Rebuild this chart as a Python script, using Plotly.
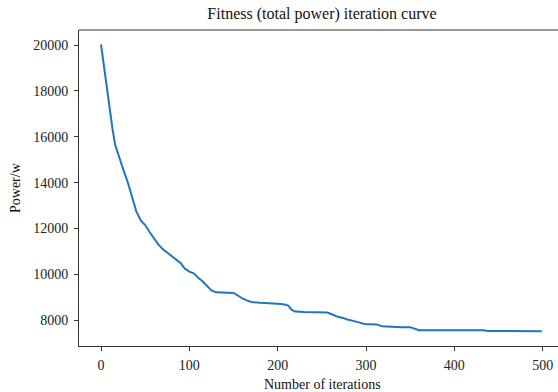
import plotly.graph_objects as go

# Data (iteration, best total power)
iterations = [0, 3, 6, 10, 13, 16, 20, 25, 30, 35, 40, 45, 50, 55, 60, 65, 70, 75, 80,
              85, 90, 95, 100, 105, 110, 115, 120, 125, 130, 140, 150, 155, 160,
              165, 170, 180, 190, 200, 208, 212, 216, 220, 230, 240, 250, 256,
              262, 268, 275, 280, 290, 298, 305, 312, 318, 330, 340, 350, 356,
              360, 380, 400, 420, 433, 438, 460, 480, 499]
power = [20030, 19150, 18300, 17250, 16350, 15650, 15150, 14600, 14050, 13450, 12750,
         12350, 12150, 11850, 11550, 11300, 11100, 10950, 10800, 10650, 10500,
         10250, 10120, 10050, 9850, 9700, 9500, 9300, 9220, 9210, 9190, 9080,
         8950, 8870, 8800, 8760, 8750, 8720, 8690, 8640, 8450, 8380, 8360, 8360,
         8360, 8340, 8250, 8150, 8090, 8020, 7930, 7840, 7830, 7820, 7740, 7710,
         7700, 7700, 7620, 7570, 7570, 7570, 7565, 7565, 7530, 7530, 7525, 7525]

x_ticks = [0, 100, 200, 300, 400, 500]
y_ticks = [8000, 10000, 12000, 14000, 16000, 18000, 20000]
y_tick_labels = ["8000", "10000", "12000", "14000", "16000", "18000", "20000"]

FONT = "Liberation Serif, Times New Roman, serif"
W, H = 558, 392
ML, MT, MB = 79, 30, 46

fig = go.Figure()
fig.add_trace(go.Scatter(x=iterations, y=power, mode="lines",
                         line=dict(color="#1f77b4", width=2), showlegend=False))

axis_common = dict(showgrid=False, zeroline=False, showline=True, linecolor="#333",
                   linewidth=1, ticks="outside", ticklen=4, tickwidth=1, tickcolor="#333",
                   tickfont=dict(family=FONT, size=14, color="#222"))

fig.update_layout(
    width=W, height=H,
    margin=dict(l=ML, r=0, t=MT, b=MB, pad=0),
    plot_bgcolor="white", paper_bgcolor="white",
    xaxis=dict(range=[-24.9, 517.3], tickvals=x_ticks,
               ticktext=[str(v) for v in x_ticks], mirror=False,
               ticklabelstandoff=2, **axis_common),
    yaxis=dict(range=[6879, 20654], tickvals=y_ticks, ticktext=y_tick_labels,
               ticklabelstandoff=3, **axis_common),
    title=dict(text="Fitness (total power) iteration curve", x=322 / W, xref="container",
               xanchor="center", y=1 - 13 / H, yref="container", yanchor="middle",
               font=dict(family=FONT, size=16, color="#111")),
    annotations=[
        dict(text="Number of iterations", xref="paper", yref="paper",
             x=(322 - ML) / (W - ML), y=-(384 - (H - MB)) / (H - MT - MB),
             xanchor="center", yanchor="middle", showarrow=False,
             font=dict(family=FONT, size=14, color="#111")),
        dict(text="Power/w", xref="paper", yref="paper",
             x=-(ML - 15) / (W - ML), y=0.5, textangle=-90,
             xanchor="center", yanchor="middle", showarrow=False,
             font=dict(family=FONT, size=14, color="#111")),
    ],
    shapes=[dict(type="line", xref="paper", yref="paper", x0=0, x1=1, y0=1, y1=1,
                 line=dict(color="#333", width=1))],
)

fig.write_html("out.html")
